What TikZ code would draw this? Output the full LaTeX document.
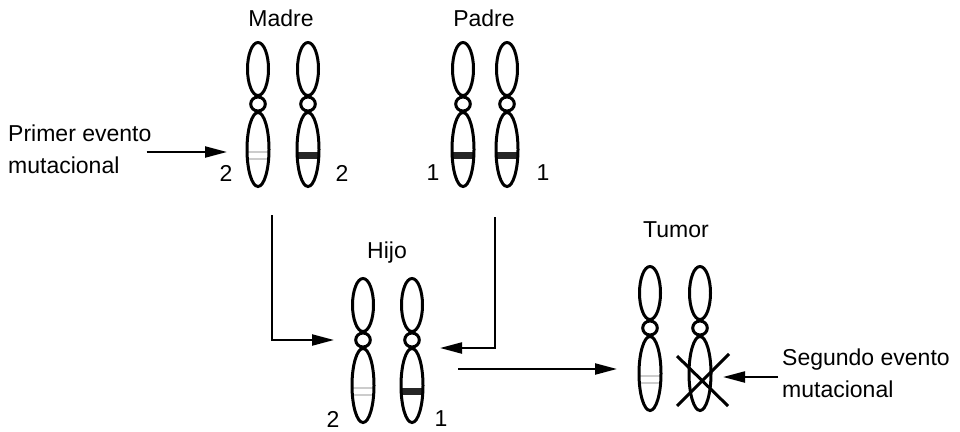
\documentclass[tikz,border=0pt]{standalone}
\usepackage{fontspec}
\setmainfont{Liberation Sans}
\usetikzlibrary{arrows.meta}

\tikzset{
    chrom/.style={line width=3pt},
    arrow/.style={line width=2.2pt, -{Triangle[length=22pt, width=11pt]}},
    txt/.style={font=\fontsize{23}{32}\selectfont, inner sep=0pt},
    % bands on the long arm
    darkband/.style={fill=black!85},
    lightband/.style={fill=white, draw=gray!40, line width=2pt},
    noband/.style={},
    % one chromosome, origin at the centromere
    pics/chromosome/.style={code={
        \draw[chrom] (0,-35) ellipse[x radius=10.5pt, y radius=26.5pt];
        \draw[chrom] (0,0) ellipse[x radius=7.3pt, y radius=7pt];
        \begin{scope}
            \clip (0,45.5) ellipse[x radius=11pt, y radius=37pt];
            \path[#1] (-14,48) rectangle (14,55);
        \end{scope}
        \draw[chrom] (0,45.5) ellipse[x radius=11pt, y radius=37pt];
        \coordinate (-band) at (0,51.5);
    }},
}

\begin{document}
\begin{tikzpicture}[x=1pt, y=-1pt]
    \useasboundingbox (0,0) rectangle (960,431);

    % Parents
    \pic (madreA) at (258,104) {chromosome=lightband};
    \pic (madreB) at (308,104) {chromosome=darkband};
    \pic (padreA) at (463,104) {chromosome=darkband};
    \pic (padreB) at (507,104) {chromosome=darkband};

    \node[txt] (madre) at (281,18) {Madre};
    \node[txt] (padre) at (484,18) {Padre};
    \node[txt] (nMadreA) at (226,173) {2};
    \node[txt] (nMadreB) at (342,173) {2};
    \node[txt] (nPadreA) at (433,173) {1};
    \node[txt] (nPadreB) at (543,173) {1};

    % Child
    \pic (hijoA) at (363,340) {chromosome=lightband};
    \pic (hijoB) at (412,340) {chromosome=darkband};

    \node[txt] (hijo) at (387,253) {Hijo};
    \node[txt] (nHijoA) at (333,419) {2};
    \node[txt] (nHijoB) at (441,419) {1};

    % Tumour: second allele is lost
    \pic (tumorA) at (650,328) {chromosome=lightband};
    \pic (tumorB) at (700,328) {chromosome=noband};
    \draw[chrom] (677,356) -- (728,406);
    \draw[chrom] (677,406) -- (729,354);

    \node[txt] (tumor) at (676,230) {Tumor};

    % Mutational events
    \node[txt, anchor=west, align=left] (primer) at (8,149) {Primer evento\\mutacional};
    \node[txt, anchor=west, align=left] (segundo) at (782,373) {Segundo evento\\mutacional};

    % Arrow end points
    \coordinate (firstHit) at (227,152);
    \coordinate (secondHit) at (723,377);
    \coordinate (madreOut) at (272,215);
    \coordinate (hijoInA) at (334,340);
    \coordinate (padreOut) at (495,217);
    \coordinate (hijoInB) at (440,348);
    \coordinate (hijoOut) at (458,369);
    \coordinate (tumorIn) at (617,369);

    \draw[arrow] ([xshift=-5pt]primer.east |- firstHit) -- (firstHit);
    \draw[arrow] ([xshift=-4pt]segundo.west |- secondHit) -- (secondHit);
    \draw[arrow] (madreOut) |- (hijoInA);
    \draw[arrow] (padreOut) |- (hijoInB);
    \draw[arrow] (hijoOut) -- (tumorIn);
\end{tikzpicture}
\end{document}
